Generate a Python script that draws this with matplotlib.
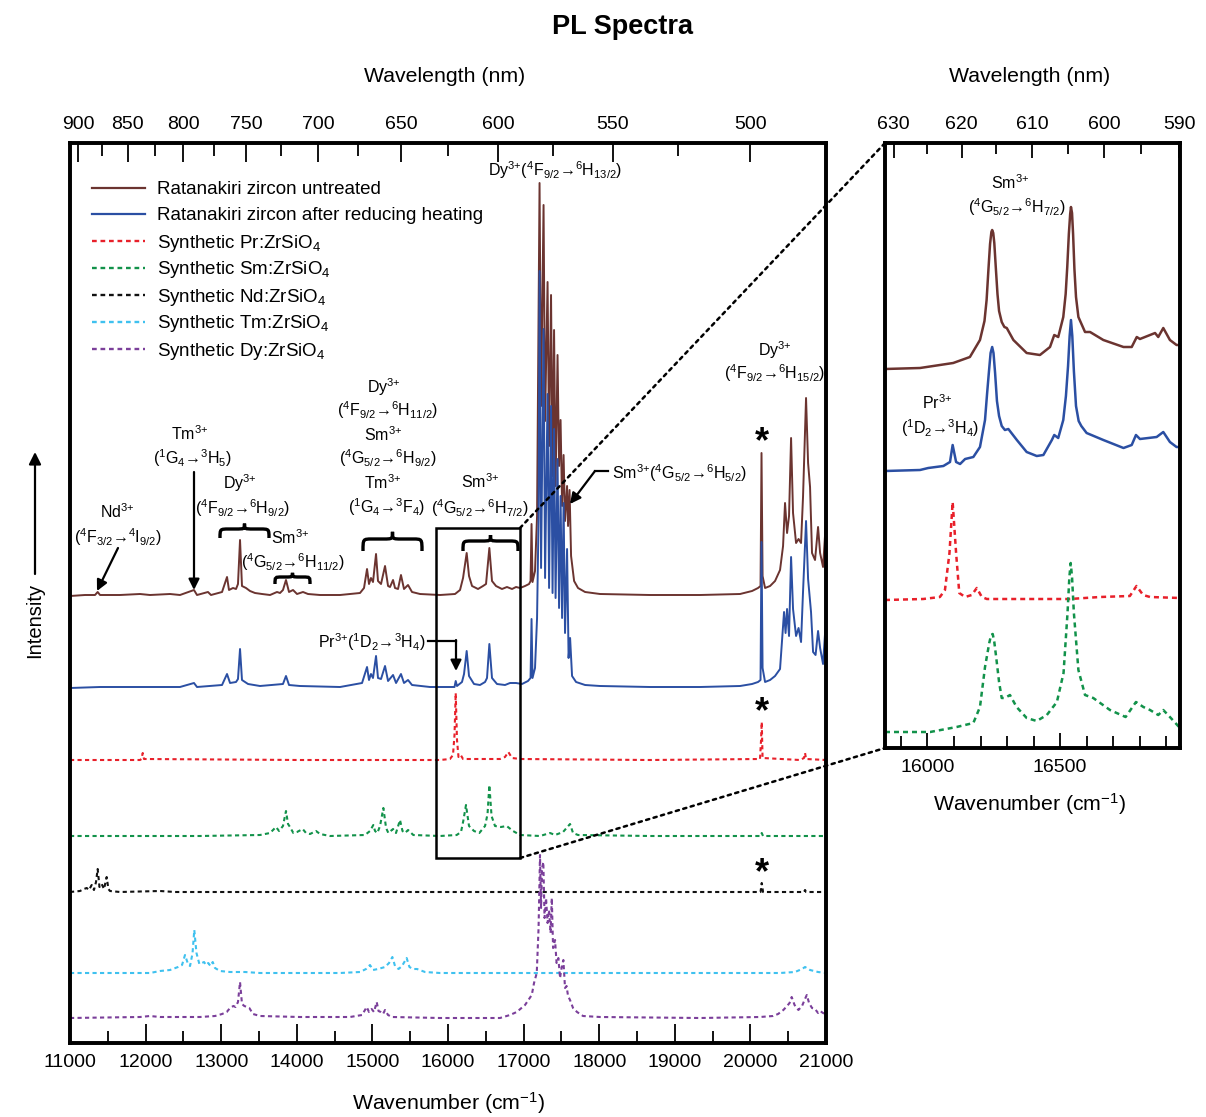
import numpy as np
import matplotlib
matplotlib.use("Agg")
import matplotlib.pyplot as plt
from matplotlib.lines import Line2D
from matplotlib.patches import FancyArrowPatch, PathPatch, Rectangle, ConnectionPatch
from matplotlib.path import Path
from matplotlib.ticker import MultipleLocator

plt.rcParams['font.family'] = ['Liberation Sans', 'DejaVu Sans']
plt.rcParams['mathtext.fontset'] = 'custom'
plt.rcParams['mathtext.rm'] = 'Liberation Sans'
plt.rcParams['mathtext.it'] = 'Liberation Sans:italic'
plt.rcParams['mathtext.bf'] = 'Liberation Sans:bold'
plt.rcParams['mathtext.default'] = 'regular'

W, H = 1206, 1117

# ---- main panel spectra (wavenumber cm-1, intensity above own baseline) ----
untreated_wn = [11000, 11198, 11331, 11366, 11397, 11661, 11926, 12058, 12323, 12455, 12640, 12680,
                12825, 12865, 13011, 13077, 13103, 13156, 13196, 13222, 13249, 13275, 13328, 13381,
                13447, 13540, 13646, 13738, 13778, 13817, 13857, 13897, 13950, 14003, 14082, 14148,
                14307, 14572, 14836, 14889, 14929, 14955, 14981, 15008, 15048, 15074, 15114, 15167,
                15207, 15233, 15273, 15299, 15339, 15378, 15418, 15471, 15524, 15630, 15894, 16093,
                16159, 16199, 16247, 16278, 16318, 16397, 16463, 16503, 16547, 16582, 16635, 16714,
                16780, 16847, 16900, 16953, 17019, 17072, 17092, 17105, 17118, 17151, 17178, 17211,
                17231, 17264, 17284, 17317, 17337, 17363, 17383, 17403, 17423, 17449, 17469, 17489,
                17509, 17529, 17548, 17575, 17588, 17608, 17628, 17668, 17720, 17813, 18011, 18672,
                19334, 19863, 20022, 20101, 20134, 20147, 20161, 20194, 20260, 20326, 20392, 20432,
                20458, 20485, 20511, 20538, 20564, 20604, 20637, 20670, 20696, 20736, 20763, 20789,
                20815, 20855, 20895, 20922, 20961, 21000]
untreated_int = [0, 1, 1, 4, 1, 1, 2, 1, 2, 1, 6, 1,
                 4, 1, 4, 19, 6, 8, 7, 12, 56, 10, 8, 5,
                 3, 2, 1, 4, 3, 6, 16, 4, 6, 2, 4, 2,
                 1, 1, 3, 8, 27, 12, 18, 14, 42, 15, 12, 30,
                 10, 9, 16, 8, 7, 21, 7, 11, 4, 2, 1, 2,
                 6, 18, 43, 20, 10, 7, 10, 12, 48, 15, 10, 7,
                 9, 7, 9, 8, 10, 12, 15, 72, 14, 25, 80, 413,
                 190, 391, 175, 314, 150, 301, 120, 266, 110, 241, 130, 176,
                 90, 141, 75, 110, 70, 106, 40, 15, 8, 4, 2, 1,
                 1, 2, 5, 8, 10, 143, 20, 8, 10, 15, 26, 50,
                 93, 63, 80, 158, 83, 53, 57, 53, 99, 198, 133, 109,
                 43, 36, 69, 43, 29, 76]

heated_wn = [11000, 11397, 11926, 12455, 12640, 12680, 13011, 13077, 13117, 13196, 13222, 13249,
             13275, 13355, 13513, 13817, 13857, 13897, 14042, 14572, 14863, 14929, 14955, 14981,
             15008, 15048, 15074, 15114, 15167, 15207, 15273, 15313, 15378, 15418, 15471, 15524,
             15762, 16026, 16086, 16102, 16119, 16185, 16212, 16247, 16278, 16344, 16423, 16490,
             16516, 16547, 16582, 16648, 16754, 16820, 16900, 16979, 17058, 17092, 17105, 17118,
             17151, 17178, 17198, 17211, 17231, 17264, 17284, 17317, 17337, 17363, 17383, 17403,
             17423, 17449, 17469, 17489, 17509, 17529, 17548, 17575, 17595, 17615, 17641, 17694,
             17813, 18011, 18672, 19334, 19863, 20022, 20101, 20134, 20147, 20161, 20194, 20260,
             20326, 20392, 20445, 20465, 20485, 20511, 20538, 20564, 20604, 20637, 20670, 20696,
             20736, 20763, 20802, 20829, 20862, 20895, 20922, 20961, 21000]
heated_int = [0, 1, 1, 1, 5, 1, 3, 14, 5, 6, 9, 39,
              8, 4, 2, 4, 12, 3, 2, 1, 5, 21, 8, 14,
              10, 32, 10, 9, 22, 7, 13, 5, 14, 5, 8, 3,
              1, 1, 1, 7, 2, 6, 14, 37, 12, 4, 3, 6,
              10, 44, 10, 4, 3, 5, 5, 4, 7, 10, 69, 10,
              20, 70, 170, 417, 120, 359, 110, 294, 100, 282, 95, 259,
              90, 229, 80, 192, 70, 185, 55, 139, 30, 50, 12, 6,
              3, 2, 1, 1, 2, 4, 6, 8, 146, 20, 6, 8,
              12, 19, 76, 55, 79, 52, 131, 79, 52, 60, 46, 96,
              167, 109, 76, 36, 33, 57, 40, 24, 69]

pr_wn = [11000, 11926, 11946, 11962, 11979, 14042, 15894, 16026, 16066, 16086, 16102, 16119,
         16139, 16168, 16199, 16688, 16754, 16798, 16847, 16953, 18672, 20127, 20141, 20150,
         20161, 20657, 20709, 20723, 20736, 21000]
pr_int = [0, 0, 1, 7, 1, 0, 0, 1, 5, 25, 67, 20,
          3, 5, 1, 1, 3, 8, 2, 1, 0, 1, 20, 38,
          2, 0, 2, 7, 1, 0]

sm_wn = [11000, 12720, 13513, 13646, 13725, 13765, 13817, 13857, 13884, 13910, 13954, 14003,
         14078, 14122, 14175, 14254, 14307, 14439, 14902, 14968, 15012, 15035, 15065, 15101,
         15145, 15181, 15211, 15273, 15312, 15365, 15398, 15431, 15472, 15541, 15894, 16115,
         16172, 16202, 16238, 16278, 16344, 16414, 16490, 16523, 16547, 16576, 16622, 16701,
         16776, 16860, 16953, 17217, 17350, 17416, 17522, 17614, 17654, 17720, 18672, 20134,
         20150, 20167, 21000]
sm_int = [0, 0, 1, 3, 9, 5, 10, 25, 12, 9, 3, 4,
          7, 3, 2, 5, 2, 0, 1, 5, 11, 5, 3, 10,
          28, 8, 3, 7, 3, 16, 5, 3, 6, 1, 0, 1,
          4, 15, 31, 10, 5, 3, 10, 22, 51, 20, 10, 9,
          10, 5, 1, 0, 3, 1, 4, 12, 3, 1, 0, 0,
          3, 0, 0]

nd_wn = [11000, 11132, 11185, 11221, 11251, 11287, 11317, 11344, 11366, 11390, 11419, 11450,
         11485, 11508, 11529, 11661, 12191, 12389, 20134, 20150, 20167, 20709, 20723, 20736, 21000]
nd_int = [0, 1, 3, 4, 2, 7, 2, 10, 23, 5, 8, 3,
          15, 3, 1, 0, 1, 0, 0, 9, 0, 0, 2, 0, 0]

tm_wn = [11000, 12058, 12191, 12323, 12429, 12482, 12521, 12561, 12588, 12621, 12644, 12673,
         12711, 12746, 12773, 12799, 12829, 12858, 12888, 12918, 12984, 13117, 13315, 13513,
         14572, 14836, 14916, 14968, 15008, 15074, 15167, 15220, 15264, 15299, 15346, 15392,
         15453, 15490, 15537, 15590, 15696, 15894, 20392, 20590, 20683, 20723, 20789, 20895, 21000]
tm_int = [0, 0, 2, 3, 6, 8, 18, 9, 7, 20, 43, 20,
          9, 10, 11, 8, 10, 7, 11, 5, 2, 1, 1, 0,
          0, 1, 4, 8, 3, 4, 6, 10, 16, 7, 4, 7,
          15, 6, 4, 4, 1, 0, 0, 1, 4, 6, 3, 1, 0]

dy_wn = [11000, 11926, 12058, 12191, 12720, 12918, 13011, 13073, 13117, 13161, 13190, 13222,
         13249, 13275, 13306, 13341, 13372, 13421, 13513, 14042, 14704, 14863, 14925, 14955,
         14990, 15021, 15057, 15081, 15110, 15141, 15167, 15207, 15260, 15894, 16688, 16820,
         16909, 17019, 17108, 17138, 17174, 17198, 17217, 17231, 17244, 17261, 17277, 17297,
         17317, 17337, 17357, 17373, 17390, 17416, 17436, 17460, 17482, 17502, 17526, 17548,
         17568, 17588, 17614, 17654, 17707, 17786, 18011, 19334, 20127, 20299, 20366, 20436,
         20485, 20518, 20546, 20584, 20635, 20683, 20716, 20746, 20776, 20815, 20855, 20895,
         20922, 20961, 21000]
dy_int = [0, 1, 2, 1, 1, 2, 4, 6, 10, 12, 11, 16,
          36, 14, 12, 11, 10, 4, 2, 1, 1, 3, 11, 6,
          9, 6, 16, 7, 6, 4, 8, 3, 1, 0, 0, 3,
          6, 13, 23, 35, 45, 90, 163, 110, 150, 156, 100, 120,
          95, 108, 85, 120, 70, 78, 55, 60, 40, 50, 58, 30,
          32, 22, 18, 10, 6, 2, 1, 0, 1, 2, 4, 8,
          12, 15, 21, 13, 8, 12, 18, 23, 15, 10, 9, 5,
          7, 5, 4]

# ---- inset spectra (15840-16952 cm-1) ----
ins_untreated_wn = [15840, 15972, 16097, 16160, 16198, 16215, 16223, 16230, 16236, 16241, 16244,
                    16248, 16252, 16258, 16264, 16270, 16280, 16290, 16299, 16324, 16374, 16424,
                    16462, 16478, 16493, 16512, 16521, 16527, 16533, 16538, 16541, 16545, 16549,
                    16554, 16560, 16569, 16594, 16613, 16663, 16739, 16770, 16789, 16801, 16839,
                    16858, 16870, 16889, 16914, 16939, 16952]
ins_untreated_int = [0, 1, 6, 12, 29, 48, 69, 100, 125, 137, 139,
                     136, 126, 100, 75, 58, 47, 42, 41, 29, 16, 14,
                     22, 34, 32, 52, 75, 102, 135, 155, 162, 156, 135,
                     100, 72, 52, 37, 37, 29, 22, 22, 32, 30, 34,
                     36, 32, 41, 29, 24, 24]

ins_heated_wn = [15840, 15972, 16003, 16060, 16085, 16095, 16108, 16123, 16142, 16173, 16198,
                 16217, 16225, 16232, 16238, 16244, 16249, 16255, 16262, 16270, 16280, 16292,
                 16305, 16337, 16374, 16412, 16437, 16469, 16478, 16493, 16512, 16522, 16530,
                 16536, 16541, 16546, 16552, 16560, 16570, 16580, 16600, 16663, 16739, 16770,
                 16786, 16801, 16864, 16889, 16914, 16939, 16952]
ins_heated_int = [0, 1, 3, 5, 9, 26, 9, 7, 12, 14, 24,
                  51, 78, 100, 118, 124, 118, 98, 70, 55, 45, 41,
                  42, 31, 19, 15, 16, 31, 36, 33, 51, 75, 105,
                  135, 151, 135, 100, 65, 50, 45, 38, 31, 23, 26,
                  36, 32, 34, 39, 29, 24, 24]

ins_pr_wn = [15840, 15984, 16047, 16066, 16083, 16095, 16108, 16120, 16142, 16167, 16186,
             16205, 16224, 16537, 16650, 16763, 16788, 16813, 16839, 16952]
ins_pr_int = [0, 1, 3, 10, 47, 98, 47, 7, 3, 5, 12,
              3, 1, 1, 3, 4, 14, 5, 3, 2]

ins_sm_wn = [15840, 16010, 16110, 16173, 16198, 16217, 16233, 16240, 16246, 16252, 16259, 16270,
             16280, 16292, 16311, 16336, 16374, 16412, 16450, 16488, 16513, 16528, 16535, 16540,
             16545, 16552, 16569, 16594, 16625, 16688, 16747, 16786, 16814, 16839, 16870, 16889,
             16914, 16952]
ins_sm_int = [0, 0, 5, 9, 25, 65, 89, 97, 98, 90, 75, 50,
              34, 34, 37, 25, 14, 11, 17, 30, 59, 119, 155, 169,
              155, 119, 62, 37, 34, 22, 15, 30, 25, 22, 17, 22,
              15, 4]

labels = ["Ratanakiri zircon untreated",
          "Ratanakiri zircon after reducing heating",
          "Synthetic Pr:ZrSiO$_4$",
          "Synthetic Sm:ZrSiO$_4$",
          "Synthetic Nd:ZrSiO$_4$",
          "Synthetic Tm:ZrSiO$_4$",
          "Synthetic Dy:ZrSiO$_4$"]
colors = ['#6b3430', '#2b4fa3', '#e8202a', '#12924a', '#111111', '#3fc1ef', '#7b3f9a']
styles = ['-', '-', (0, (2, 1.6)), (0, (2, 1.6)), (0, (2, 1.6)), (0, (2, 1.6)), (0, (2, 1.6))]
offsets = [447, 355, 283, 207, 151, 70, 25]
inset_offsets = [379, 277, 148, 16]

top_wl_major = [900, 850, 800, 750, 700, 650, 600, 550, 500]
top_wl_minor = [875, 825, 775, 725, 675, 625, 575, 525]
inset_wl_major = [630, 620, 610, 600, 590]
inset_wl_minor = [625, 615, 605, 595]

ANN = 11.5    # annotation font size
TICK = 14
ION = "$^{3{+}}$"   # 3+ superscript without operator spacing


def fp(x, y):
    """pixel position (from top-left) -> figure fraction"""
    return (x / W, 1 - y / H)


fig = plt.figure(figsize=(W / 100, H / 100), dpi=100)

ax = fig.add_axes([70 / W, 1 - 1043 / H, 756 / W, 900 / H])
main_data = [(untreated_wn, untreated_int), (heated_wn, heated_int), (pr_wn, pr_int),
             (sm_wn, sm_int), (nd_wn, nd_int), (tm_wn, tm_int), (dy_wn, dy_int)]
for (wn, inten), c, ls, off in zip(main_data, colors, styles, offsets):
    lw = 1.4 if ls == '-' else 1.5
    ax.plot(wn, np.array(inten) + off, color=c, ls=ls, lw=lw)
ax.set_xlim(11000, 21000)
ax.set_ylim(0, 900)
ax.set_yticks([])
ax.set_xticks(range(11000, 21001, 1000))
ax.xaxis.set_minor_locator(MultipleLocator(500))
ax.tick_params(axis='x', which='major', direction='in', length=14, width=1.3, labelsize=TICK, pad=8)
ax.tick_params(axis='x', which='minor', direction='in', length=9, width=1.3)
for s in ax.spines.values():
    s.set_linewidth(2.6)

axt = ax.twiny()
axt.set_xlim(ax.get_xlim())
axt.set_xticks([1e7 / w for w in top_wl_major])
axt.set_xticklabels([str(w) for w in top_wl_major])
axt.set_xticks([1e7 / w for w in top_wl_minor], minor=True)
axt.tick_params(axis='x', which='major', direction='in', length=14, width=1.3, labelsize=TICK, pad=7)
axt.tick_params(axis='x', which='minor', direction='in', length=9, width=1.3)
for s in axt.spines.values():
    s.set_linewidth(2.6)

# inset
axin = fig.add_axes([885 / W, 1 - 748 / H, 295 / W, 605 / H])
inset_data = [(ins_untreated_wn, ins_untreated_int), (ins_heated_wn, ins_heated_int),
              (ins_pr_wn, ins_pr_int), (ins_sm_wn, ins_sm_int)]
for (wn, inten), c, ls, off in zip(inset_data, colors[:4], styles[:4], inset_offsets):
    axin.plot(wn, np.array(inten) + off, color=c, ls=ls, lw=1.8)
axin.set_xlim(15840, 16952)
axin.set_ylim(0, 605)
axin.set_yticks([])
axin.set_xticks([16000, 16500])
axin.xaxis.set_minor_locator(MultipleLocator(100))
axin.tick_params(axis='x', which='major', direction='in', length=11, width=1.3, labelsize=TICK, pad=8)
axin.tick_params(axis='x', which='minor', direction='in', length=9, width=1.3)
for s in axin.spines.values():
    s.set_linewidth(2.6)
axint = axin.twiny()
axint.set_xlim(axin.get_xlim())
axint.set_xticks([1e7 / w for w in inset_wl_major])
axint.set_xticklabels([str(w) for w in inset_wl_major])
axint.set_xticks([1e7 / w for w in inset_wl_minor], minor=True)
axint.tick_params(axis='x', which='major', direction='in', length=11, width=1.3, labelsize=TICK, pad=7)
axint.tick_params(axis='x', which='minor', direction='in', length=8, width=1.3)
for s in axint.spines.values():
    s.set_linewidth(2.6)

# zoom box + connectors
x_lo, x_hi = axin.get_xlim()
ax.add_patch(Rectangle((x_lo, 185), x_hi - x_lo, 330, fill=False, lw=1.8, ec='k', zorder=5))
for ya, yb in [(515, 1), (185, 0)]:
    con = ConnectionPatch(xyA=(x_hi, ya), coordsA=ax.transData, xyB=(0, yb), coordsB=axin.transAxes,
                          ls=(0, (1.3, 1.8)), lw=1.8, color='k', zorder=10)
    fig.add_artist(con)

# titles and axis labels
fig.text(*fp(622, 27), "PL Spectra", ha='center', va='center', fontsize=19.5, fontweight='bold')
fig.text(*fp(445, 77), "Wavelength (nm)", ha='center', va='center', fontsize=15.3)
fig.text(*fp(1030, 77), "Wavelength (nm)", ha='center', va='center', fontsize=15.3)
fig.text(*fp(449, 1103), "Wavenumber (cm$^{-1}$)", ha='center', va='center', fontsize=15.3)
fig.text(*fp(1030, 804), "Wavenumber (cm$^{-1}$)", ha='center', va='center', fontsize=15.3)
fig.text(*fp(35, 620), "Intensity", ha='center', va='center', fontsize=14.5, rotation=90)


def arrow(x0, y0, x1, y1, ms=16):
    fig.add_artist(FancyArrowPatch(fp(x0, y0), fp(x1, y1), transform=fig.transFigure,
                                   arrowstyle='-|>', mutation_scale=ms, lw=1.6, color='k',
                                   shrinkA=0, shrinkB=0, zorder=12))


def seg(xs, ys):
    pts = [fp(x, y) for x, y in zip(xs, ys)]
    fig.add_artist(Line2D([p[0] for p in pts], [p[1] for p in pts], transform=fig.transFigure,
                          color='k', lw=1.6, zorder=12))


def brace(x0, x1, y, h):
    xm = (x0 + x1) / 2
    r = min(9, (x1 - x0) / 5)
    v = [(x0, y + h), (x0, y), (x0, y), (x0 + r, y), (xm - r, y),
         (xm, y), (xm, y), (xm, y - h * 0.6), (xm, y), (xm, y), (xm + r, y),
         (x1 - r, y), (x1, y), (x1, y), (x1, y + h)]
    codes = [Path.MOVETO, Path.CURVE4, Path.CURVE4, Path.CURVE4, Path.LINETO,
             Path.CURVE4, Path.CURVE4, Path.CURVE4, Path.CURVE4, Path.CURVE4, Path.CURVE4,
             Path.LINETO, Path.CURVE4, Path.CURVE4, Path.CURVE4]
    fig.add_artist(PathPatch(Path([fp(*p) for p in v], codes), transform=fig.transFigure,
                             fill=False, lw=2.4, ec='k', zorder=12))


def note(x, y, s, ha='center', size=ANN):
    fig.text(*fp(x, y), s, ha=ha, va='center', fontsize=size, zorder=12)


arrow(35, 574, 35, 452, ms=18)

# legend
rows = [188, 214, 241, 268, 295, 322, 349]
for lab, c, ls, ry in zip(labels, colors, styles, rows):
    fig.add_artist(Line2D([92 / W, 145 / W], [1 - ry / H] * 2, transform=fig.transFigure,
                          color=c, ls=ls, lw=1.6 if ls == '-' else 1.7))
    fig.text(157 / W, 1 - (ry + 6.5) / H, lab, ha='left', va='baseline', fontsize=13.5)

# peak annotations
note(555, 170, "Dy" + ION + "($^4$F$_{9/2}$→$^6$H$_{13/2}$)")
note(775, 350, "Dy" + ION)
note(775, 373, "($^4$F$_{9/2}$→$^6$H$_{15/2}$)")
note(612, 473, "Sm" + ION + "($^4$G$_{5/2}$→$^6$H$_{5/2}$)", ha='left')
seg([595, 608], [471, 471])
arrow(595, 471, 570, 504)

note(480, 482, "Sm" + ION)
note(480, 508, "($^4$G$_{5/2}$→$^6$H$_{7/2}$)")
brace(463, 518, 541, 10)

note(384, 387, "Dy" + ION)
note(388, 410, "($^4$F$_{9/2}$→$^6$H$_{11/2}$)")
note(383, 435, "Sm" + ION)
note(388, 458, "($^4$G$_{5/2}$→$^6$H$_{9/2}$)")
note(383, 483, "Tm" + ION)
note(387, 507, "($^1$G$_4$→$^3$F$_4$)")
brace(363, 422, 539, 12)

note(190, 434, "Tm" + ION)
note(193, 458, "($^1$G$_4$→$^3$H$_5$)")
arrow(194, 472, 194, 590)

note(240, 483, "Dy" + ION)
note(243, 508, "($^4$F$_{9/2}$→$^6$H$_{9/2}$)")
brace(220, 269, 529, 9)

note(290, 538, "Sm" + ION)
note(293, 562, "($^4$G$_{5/2}$→$^6$H$_{11/2}$)")
brace(275, 310, 577, 7)

note(117, 512, "Nd" + ION)
note(118, 537, "($^4$F$_{3/2}$→$^4$I$_{9/2}$)")
arrow(118, 548, 97, 591)

note(372, 642, "Pr" + ION + "($^1$D$_2$→$^3$H$_4$)")
seg([428, 456], [641, 641])
arrow(456, 640, 456, 671)

for ay in [443, 713, 874]:
    fig.text(*fp(762, ay), "*", ha='center', va='center', fontsize=26, fontweight='bold')

note(1010, 183, "Sm" + ION)
note(1017, 207, "($^4$G$_{5/2}$→$^6$H$_{7/2}$)")
note(937, 403, "Pr" + ION)
note(940, 428, "($^1$D$_2$→$^3$H$_4$)")

fig.savefig("out.png", dpi=100)
